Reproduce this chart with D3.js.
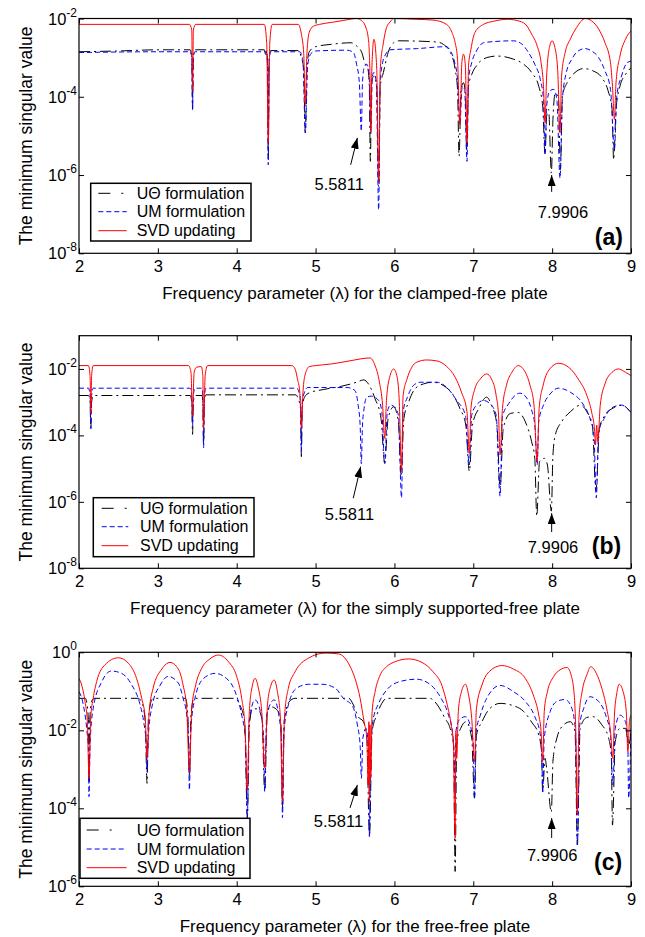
<!DOCTYPE html>
<html><head><meta charset="utf-8">
<script src="https://cdn.jsdelivr.net/npm/d3@7"></script>
<style>
body{margin:0;background:#fff}
svg{display:block}
text{font-family:"Liberation Sans",Arial,Helvetica,sans-serif;fill:#000}
</style>
</head><body>
<svg id="chart" width="645" height="937"></svg>
<script>
// ---------- DATA (lambda, log10 of minimum singular value) ----------
const lambdaTicks=[2,3,4,5,6,7,8,9];
const seriesNames=["U\u0398 formulation","UM formulation","SVD updating"];
const xTitles=["Frequency parameter (\u03bb) for the clamped-free plate",
 "Frequency parameter (\u03bb) for the simply supported-free plate",
 "Frequency parameter (\u03bb) for the free-free plate"];
const panelTags=["(a)","(b)","(c)"];
const yExpDomains=[[-8,-2],[-8,-1],[-6,0]];
const yExpTicks=[[-2,-4,-6,-8],[-2,-4,-6,-8],[0,-2,-4,-6]];
const annotationTexts=["5.5811","7.9906"];

// (a) clamped-free
const cfUTheta=[[2,-2.85],[2.5,-2.83],[3.0,-2.8],[3.41,-2.8],[3.43,-3.0],[3.44,-4.32],[3.45,-3.0],[3.47,-2.8],[4.35,-2.8],[4.37,-2.95],[4.38,-2.82],[4.39,-3.1],[4.40,-5.6],[4.41,-3.1],[4.43,-2.82],[4.78,-2.82],[4.82,-3.0],[4.85,-3.3],[4.87,-4.92],[4.89,-3.3],[4.92,-2.85],[5.0,-2.72],[5.2,-2.66],[5.45,-2.62],[5.52,-2.7],[5.586,-2.87],[5.63,-3.17],[5.66,-3.26],[5.68,-3.64],[5.695,-5.65],[5.71,-3.64],[5.74,-3.47],[5.776,-3.73],[5.80,-6.3],[5.82,-3.73],[5.86,-3.38],[5.92,-2.87],[5.99,-2.62],[6.05,-2.57],[6.54,-2.6],[6.62,-2.66],[6.71,-2.87],[6.77,-3.3],[6.80,-3.81],[6.82,-5.52],[6.845,-3.81],[6.875,-3.64],[6.90,-3.9],[6.915,-5.35],[6.94,-3.73],[6.98,-3.43],[7.04,-3.21],[7.17,-3.0],[7.30,-2.96],[7.51,-3.04],[7.64,-3.17],[7.74,-3.38],[7.83,-3.73],[7.88,-4.24],[7.91,-5.48],[7.93,-4.5],[7.955,-4.32],[7.99,-5.95],[8.01,-4.58],[8.04,-3.9],[8.08,-4.07],[8.105,-5.86],[8.13,-3.98],[8.19,-3.64],[8.29,-3.38],[8.40,-3.28],[8.52,-3.34],[8.63,-3.51],[8.71,-3.85],[8.76,-4.32],[8.78,-5.61],[8.81,-4.32],[8.86,-3.73],[8.93,-3.43],[9.0,-3.26]];
const cfUM=[[2,-2.87],[3.0,-2.85],[3.41,-2.85],[3.43,-3.0],[3.44,-4.32],[3.45,-3.0],[3.47,-2.85],[4.37,-2.85],[4.39,-3.1],[4.40,-5.74],[4.41,-3.1],[4.43,-2.85],[4.80,-2.85],[4.84,-3.1],[4.87,-4.92],[4.90,-3.2],[4.94,-2.9],[5.0,-2.83],[5.40,-2.81],[5.48,-2.87],[5.52,-3.17],[5.555,-3.64],[5.58,-4.88],[5.595,-3.64],[5.615,-3.26],[5.65,-3.17],[5.68,-3.47],[5.70,-4.92],[5.72,-3.47],[5.74,-3.38],[5.77,-3.64],[5.80,-6.89],[5.82,-3.64],[5.85,-3.13],[5.89,-2.91],[5.945,-2.8],[6.28,-2.77],[6.66,-2.72],[6.71,-2.83],[6.76,-3.09],[6.80,-3.56],[6.83,-4.67],[6.86,-3.73],[6.89,-3.81],[6.92,-5.65],[6.94,-3.56],[6.98,-3.13],[7.04,-2.83],[7.13,-2.62],[7.26,-2.59],[7.51,-2.57],[7.62,-2.66],[7.70,-2.87],[7.78,-3.17],[7.85,-3.56],[7.89,-4.07],[7.91,-5.48],[7.93,-4.24],[7.97,-3.85],[8.02,-3.81],[8.06,-4.07],[8.10,-6.08],[8.13,-4.07],[8.18,-3.38],[8.25,-3.04],[8.33,-2.83],[8.42,-2.77],[8.50,-2.83],[8.59,-3.0],[8.67,-3.34],[8.74,-3.81],[8.79,-5.35],[8.82,-3.98],[8.88,-3.47],[8.95,-3.13],[9.0,-3.09]];
const cfSVD=[[2,-2.15],[3.40,-2.15],[3.43,-2.3],[3.44,-3.85],[3.45,-2.3],[3.48,-2.15],[4.35,-2.15],[4.38,-2.62],[4.40,-5.18],[4.42,-2.6],[4.45,-2.15],[4.78,-2.15],[4.82,-2.4],[4.85,-2.9],[4.87,-4.2],[4.89,-2.9],[4.92,-2.35],[4.97,-2.2],[5.05,-2.15],[5.2,-2.1],[5.35,-2.05],[5.52,-2.0],[5.586,-2.06],[5.63,-2.19],[5.67,-2.53],[5.69,-3.47],[5.70,-4.9],[5.715,-3.2],[5.74,-2.53],[5.776,-3.3],[5.80,-6.16],[5.82,-3.3],[5.86,-2.62],[5.90,-2.23],[5.945,-2.09],[5.99,-2.0],[6.28,-2.02],[6.49,-2.04],[6.66,-2.15],[6.73,-2.36],[6.77,-2.62],[6.80,-3.04],[6.83,-4.71],[6.855,-3.13],[6.875,-2.91],[6.90,-3.21],[6.92,-5.18],[6.94,-3.21],[6.97,-2.79],[7.02,-2.36],[7.13,-2.15],[7.26,-2.07],[7.43,-2.02],[7.59,-2.07],[7.68,-2.19],[7.74,-2.4],[7.81,-2.7],[7.86,-3.13],[7.89,-3.73],[7.91,-4.67],[7.93,-3.47],[7.97,-2.7],[8.00,-2.57],[8.03,-2.7],[8.07,-3.3],[8.10,-4.92],[8.12,-3.47],[8.165,-2.87],[8.23,-2.53],[8.31,-2.23],[8.42,-2.0],[8.50,-2.06],[8.59,-2.27],[8.67,-2.62],[8.74,-3.13],[8.765,-3.73],[8.79,-4.58],[8.81,-3.64],[8.86,-2.96],[8.93,-2.53],[9.0,-2.32]];

// (b) simply supported-free
const ssUTheta=[[2,-2.8],[2.12,-2.8],[2.14,-3.0],[2.15,-3.79],[2.16,-3.0],[2.18,-2.8],[3.41,-2.8],[3.43,-3.0],[3.44,-3.97],[3.45,-3.0],[3.47,-2.8],[3.56,-2.8],[3.57,-3.0],[3.58,-4.3],[3.59,-3.0],[3.61,-2.78],[4.75,-2.78],[4.78,-2.9],[4.81,-3.2],[4.82,-4.64],[4.83,-3.2],[4.86,-2.85],[4.92,-2.72],[5.1,-2.62],[5.33,-2.52],[5.45,-2.45],[5.52,-2.4],[5.61,-2.33],[5.67,-2.45],[5.755,-2.9],[5.83,-3.49],[5.877,-4.84],[5.92,-3.49],[5.99,-3.14],[6.05,-3.59],[6.085,-5.18],[6.12,-3.49],[6.18,-3.0],[6.26,-2.6],[6.37,-2.45],[6.49,-2.4],[6.62,-2.5],[6.75,-2.8],[6.83,-3.19],[6.905,-3.69],[6.95,-5.08],[6.99,-3.69],[7.07,-3.19],[7.17,-2.85],[7.23,-3.09],[7.30,-3.69],[7.34,-5.58],[7.38,-3.79],[7.47,-3.34],[7.57,-3.31],[7.66,-3.59],[7.74,-4.19],[7.78,-4.69],[7.805,-6.43],[7.84,-4.79],[7.90,-4.69],[7.94,-4.89],[7.99,-6.28],[8.01,-4.6],[8.04,-3.99],[8.12,-3.59],[8.23,-3.29],[8.36,-3.09],[8.44,-3.29],[8.51,-3.69],[8.555,-5.68],[8.60,-3.79],[8.67,-3.39],[8.78,-3.17],[8.88,-3.09],[9.0,-3.31]];
const ssUM=[[2,-2.58],[2.12,-2.58],[2.14,-2.8],[2.15,-3.79],[2.16,-2.8],[2.18,-2.58],[3.41,-2.58],[3.43,-2.8],[3.44,-3.7],[3.45,-2.8],[3.47,-2.58],[3.56,-2.58],[3.57,-2.8],[3.58,-4.37],[3.59,-2.8],[3.61,-2.58],[4.76,-2.58],[4.79,-2.7],[4.81,-3.0],[4.82,-4.5],[4.83,-3.0],[4.86,-2.7],[4.9,-2.56],[5.4,-2.56],[5.50,-2.65],[5.54,-3.09],[5.565,-3.69],[5.58,-4.85],[5.595,-3.69],[5.615,-3.19],[5.65,-2.85],[5.71,-2.82],[5.80,-2.95],[5.84,-3.29],[5.877,-4.84],[5.91,-3.29],[5.95,-3.09],[6.0,-3.14],[6.05,-3.39],[6.09,-5.88],[6.11,-3.29],[6.165,-2.85],[6.24,-2.5],[6.33,-2.4],[6.54,-2.4],[6.66,-2.55],[6.79,-2.95],[6.90,-3.39],[6.95,-4.89],[6.98,-3.39],[7.04,-3.09],[7.13,-2.95],[7.21,-3.04],[7.29,-3.39],[7.34,-5.83],[7.37,-3.44],[7.45,-3.04],[7.53,-2.8],[7.59,-2.73],[7.67,-2.85],[7.74,-3.24],[7.78,-3.69],[7.81,-4.89],[7.83,-3.59],[7.89,-3.09],[7.975,-2.75],[8.08,-2.58],[8.23,-2.7],[8.40,-3.09],[8.48,-3.49],[8.53,-3.99],[8.56,-5.88],[8.59,-3.89],[8.66,-3.49],[8.78,-3.14],[8.88,-3.09],[9.0,-3.31]];
const ssSVD=[[2,-1.9],[2.12,-1.9],[2.14,-2.2],[2.15,-3.34],[2.16,-2.2],[2.18,-1.9],[3.39,-1.9],[3.42,-2.1],[3.44,-3.4],[3.46,-2.1],[3.49,-1.95],[3.55,-1.93],[3.57,-2.2],[3.58,-3.79],[3.60,-2.2],[3.63,-1.9],[4.70,-1.9],[4.74,-2.0],[4.77,-2.3],[4.80,-2.7],[4.82,-3.79],[4.84,-2.7],[4.87,-2.15],[4.92,-1.93],[5.0,-1.9],[5.2,-1.85],[5.45,-1.75],[5.565,-1.7],[5.69,-1.67],[5.755,-1.9],[5.81,-2.4],[5.85,-3.09],[5.877,-4.09],[5.90,-2.9],[5.945,-2.2],[5.99,-2.0],[6.03,-2.2],[6.06,-2.9],[6.09,-5.08],[6.11,-2.8],[6.16,-2.3],[6.22,-1.95],[6.28,-1.8],[6.41,-1.73],[6.54,-1.76],[6.66,-1.92],[6.77,-2.25],[6.85,-2.7],[6.92,-3.29],[6.95,-4.54],[6.97,-3.19],[7.02,-2.6],[7.09,-2.3],[7.17,-2.15],[7.23,-2.3],[7.29,-2.8],[7.32,-3.39],[7.34,-4.59],[7.37,-3.19],[7.42,-2.5],[7.49,-2.1],[7.57,-1.9],[7.66,-2.1],[7.72,-2.5],[7.77,-3.09],[7.81,-4.79],[7.835,-3.19],[7.89,-2.45],[7.97,-2.0],[8.08,-1.83],[8.21,-1.95],[8.33,-2.3],[8.44,-2.8],[8.50,-3.29],[8.54,-3.89],[8.55,-4.29],[8.565,-3.69],[8.58,-4.19],[8.61,-3.09],[8.67,-2.45],[8.76,-2.1],[8.84,-2.0],[8.93,-2.1],[9.0,-2.2]];

// (c) free-free
const ffUTheta=[[2,-1.18],[2.08,-1.18],[2.10,-1.3],[2.12,-1.8],[2.127,-3.3],[2.135,-1.8],[2.16,-1.25],[2.2,-1.18],[2.75,-1.18],[2.80,-1.3],[2.84,-1.78],[2.863,-3.36],[2.88,-1.7],[2.93,-1.2],[2.98,-1.18],[3.35,-1.18],[3.38,-1.6],[3.40,-3.2],[3.42,-1.6],[3.46,-1.18],[3.97,-1.18],[4.04,-1.35],[4.10,-1.78],[4.135,-4.24],[4.16,-1.9],[4.2,-1.45],[4.26,-1.45],[4.32,-1.7],[4.355,-3.57],[4.39,-1.5],[4.44,-1.4],[4.52,-1.5],[4.56,-1.8],[4.58,-4.0],[4.60,-1.8],[4.66,-1.28],[4.74,-1.18],[5.42,-1.18],[5.48,-1.35],[5.54,-1.65],[5.607,-1.78],[5.65,-2.2],[5.683,-4.73],[5.717,-2.03],[5.776,-1.61],[5.84,-1.31],[5.90,-1.18],[6.45,-1.18],[6.545,-1.35],[6.64,-1.69],[6.706,-1.95],[6.75,-2.38],[6.77,-5.62],[6.79,-2.29],[6.84,-1.95],[6.91,-1.78],[6.98,-2.2],[7.015,-3.74],[7.04,-2.12],[7.11,-1.78],[7.21,-1.44],[7.34,-1.31],[7.51,-1.37],[7.64,-1.52],[7.74,-1.79],[7.83,-2.12],[7.865,-2.55],[7.88,-3.57],[7.91,-2.72],[7.93,-2.97],[7.99,-4.1],[8.01,-2.8],[8.06,-2.2],[8.145,-1.86],[8.23,-1.78],[8.29,-2.03],[8.32,-4.94],[8.355,-1.95],[8.44,-1.67],[8.52,-1.65],[8.63,-1.86],[8.71,-2.16],[8.75,-2.63],[8.765,-4.43],[8.80,-2.29],[8.86,-1.95],[8.93,-1.95],[8.97,-2.38],[9.0,-2.03]];
const ffUM=[[2,-1.01],[2.055,-1.35],[2.097,-1.95],[2.12,-2.55],[2.127,-3.7],[2.14,-2.38],[2.18,-1.44],[2.29,-0.75],[2.41,-0.48],[2.54,-0.54],[2.67,-0.84],[2.77,-1.31],[2.82,-1.78],[2.85,-2.29],[2.863,-3.06],[2.88,-2.12],[2.93,-1.35],[3.03,-0.84],[3.13,-0.62],[3.26,-0.79],[3.32,-1.18],[3.366,-1.61],[3.387,-2.12],[3.40,-3.53],[3.417,-2.03],[3.47,-1.18],[3.58,-0.67],[3.725,-0.54],[3.87,-0.67],[3.98,-1.01],[4.063,-1.61],[4.11,-2.2],[4.135,-4.24],[4.156,-1.78],[4.233,-1.22],[4.30,-1.52],[4.34,-2.12],[4.355,-3.57],[4.38,-1.61],[4.474,-1.22],[4.54,-1.69],[4.57,-2.38],[4.58,-4.24],[4.60,-2.03],[4.655,-1.35],[4.76,-0.92],[4.91,-0.82],[5.08,-0.82],[5.25,-0.92],[5.37,-1.22],[5.44,-1.31],[5.49,-1.48],[5.53,-1.86],[5.565,-2.38],[5.581,-3.23],[5.60,-2.2],[5.64,-1.95],[5.676,-2.63],[5.683,-4.73],[5.70,-2.63],[5.725,-1.78],[5.80,-1.31],[5.90,-0.97],[6.07,-0.75],[6.28,-0.69],[6.45,-0.82],[6.58,-1.14],[6.685,-1.61],[6.735,-2.03],[6.76,-2.8],[6.77,-3.74],[6.78,-2.03],[6.82,-1.74],[6.90,-1.65],[6.96,-1.86],[7.0,-2.38],[7.015,-3.74],[7.036,-2.03],[7.09,-1.61],[7.17,-1.18],[7.34,-0.85],[7.51,-1.01],[7.66,-1.26],[7.78,-1.65],[7.85,-2.12],[7.87,-2.63],[7.88,-3.62],[7.90,-2.2],[7.975,-1.52],[8.06,-1.26],[8.165,-1.21],[8.25,-1.44],[8.296,-2.03],[8.32,-4.94],[8.35,-1.86],[8.40,-1.44],[8.48,-1.14],[8.59,-1.26],[8.685,-1.65],[8.74,-2.12],[8.77,-3.4],[8.80,-1.95],[8.86,-1.61],[8.93,-1.78],[8.96,-2.38],[8.97,-3.74],[9.0,-1.95]];
const ffSVD=[[2,-0.67],[2.034,-0.84],[2.076,-1.26],[2.106,-1.78],[2.127,-3.23],[2.148,-1.69],[2.18,-1.18],[2.224,-0.75],[2.33,-0.32],[2.50,-0.14],[2.626,-0.28],[2.73,-0.67],[2.795,-1.18],[2.84,-1.69],[2.863,-2.72],[2.89,-1.52],[2.94,-0.92],[3.05,-0.43],[3.154,-0.26],[3.26,-0.43],[3.32,-0.84],[3.366,-1.44],[3.40,-3.06],[3.43,-1.44],[3.48,-0.84],[3.556,-0.41],[3.66,-0.17],[3.767,-0.07],[3.894,-0.24],[4.0,-0.62],[4.063,-1.18],[4.106,-1.95],[4.135,-3.53],[4.16,-1.52],[4.2,-0.84],[4.233,-0.67],[4.275,-0.92],[4.317,-1.52],[4.355,-2.97],[4.39,-1.35],[4.435,-0.84],[4.474,-0.71],[4.516,-1.01],[4.554,-1.69],[4.58,-3.83],[4.605,-1.69],[4.655,-0.92],[4.74,-0.5],[4.91,-0.15],[5.12,-0.02],[5.29,-0.04],[5.44,-0.37],[5.50,-0.67],[5.565,-1.18],[5.615,-1.78],[5.65,-2.2],[5.667,-3.4],[5.676,-1.78],[5.683,-3.83],[5.69,-1.86],[5.70,-3.23],[5.717,-1.52],[5.755,-1.01],[5.82,-0.58],[5.90,-0.37],[6.01,-0.24],[6.18,-0.17],[6.35,-0.26],[6.49,-0.5],[6.60,-0.84],[6.67,-1.35],[6.72,-1.86],[6.75,-2.38],[6.76,-4.08],[6.77,-4.77],[6.78,-2.03],[6.79,-2.72],[6.81,-1.52],[6.85,-1.01],[6.90,-0.82],[6.94,-1.09],[6.98,-1.69],[7.015,-2.8],[7.04,-1.44],[7.11,-0.84],[7.21,-0.48],[7.36,-0.34],[7.51,-0.43],[7.66,-0.67],[7.76,-1.09],[7.83,-1.61],[7.86,-2.03],[7.88,-2.8],[7.90,-1.52],[7.94,-1.01],[8.02,-0.62],[8.10,-0.45],[8.19,-0.39],[8.24,-0.58],[8.28,-1.09],[8.30,-2.03],[8.32,-4.17],[8.34,-1.69],[8.38,-1.01],[8.44,-0.58],[8.49,-0.37],[8.56,-0.54],[8.63,-0.92],[8.70,-1.52],[8.74,-2.03],[8.77,-2.72],[8.79,-1.61],[8.82,-1.05],[8.85,-0.82],[8.90,-1.01],[8.94,-1.52],[8.96,-2.55],[8.98,-1.78],[9.0,-1.61]];

// annotation anchors in data units: [lambda, log10 value]
const annA={t1:[5.30,-6.38],tail1:[5.445,-5.74],tip1:[5.53,-5.05],t2:[8.137,-7.10],tail2:[7.994,-6.43],tip2:[7.994,-6.0],tag:[8.72,-7.79]};
const annB={t1:[5.43,-6.55],tail1:[5.478,-5.89],tip1:[5.572,-4.94],t2:[8.011,-7.54],tail2:[7.994,-6.91],tip2:[7.994,-6.34],tag:[8.69,-7.57]};
const annC={t1:[5.29,-4.48],tail1:[5.437,-3.99],tip1:[5.53,-3.40],t2:[8.0,-5.35],tail2:[7.994,-4.76],tip2:[7.994,-4.25],tag:[8.71,-5.58]};

// ---------- LAYOUT / STYLE ----------
const X0=79, X1=631;
const styles=[
  {color:"#000000",width:1,dash:"11,4,2,4",legendDash:"12,11,2,30"},
  {color:"#0000ff",width:1,dash:"5,3",legendDash:"5,3"},
  {color:"#ff0000",width:1,dash:null,legendDash:null}
];
const panels=[
  {yTop:18.5,yBot:253.3,series:[cfUTheta,cfUM,cfSVD],ann:annA,
   legend:{x:90.7,y:183.3,w:160.3,h:57.7,l1:98.3,l2:126.7,tx:136.7,rows:[10,28.4,47.4]}},
  {yTop:335.7,yBot:568.3,series:[ssUTheta,ssUM,ssSVD],ann:annB,
   legend:{x:93.3,y:497.7,w:160.7,h:59,l1:101.7,l2:128.3,tx:140,rows:[10.6,29,48]}},
  {yTop:652.3,yBot:886.3,series:[ffUTheta,ffUM,ffSVD],ann:annC,
   legend:{x:80,y:818.3,w:170,h:60,l1:86.7,l2:126.7,tx:136.7,rows:[11.7,30.7,49.4]}}
];

const svg=d3.select("#chart");
svg.append("rect").attr("width",645).attr("height",937).attr("fill","#fff");
const defs=svg.append("defs");
defs.append("marker").attr("id","arrowhead").attr("markerUnits","userSpaceOnUse")
  .attr("markerWidth",11).attr("markerHeight",8).attr("refX",11).attr("refY",4).attr("orient","auto")
  .append("path").attr("d","M0,0 L11,4 L0,8 Z").attr("fill","#000");

panels.forEach((p,pi)=>{
  const x=d3.scaleLinear().domain([2,9]).range([X0,X1]);
  const y=d3.scaleLog().domain([Math.pow(10,yExpDomains[pi][0]),Math.pow(10,yExpDomains[pi][1])]).range([p.yBot,p.yTop]);
  const px=d=>x(d[0]), py=d=>y(Math.pow(10,d[1]));
  const g=svg.append("g");
  const clipId="clip"+pi;
  defs.append("clipPath").attr("id",clipId).append("rect")
    .attr("x",X0).attr("y",p.yTop).attr("width",X1-X0).attr("height",p.yBot-p.yTop);

  const line=d3.line().x(px).y(py).curve(d3.curveMonotoneX);
  p.series.forEach((s,i)=>{
    g.append("path").datum(s).attr("clip-path",`url(#${clipId})`)
     .attr("d",line).attr("fill","none")
     .attr("stroke",styles[i].color).attr("stroke-width",styles[i].width)
     .attr("stroke-dasharray",styles[i].dash);
  });

  // axes with inward ticks
  const tv=yExpTicks[pi].map(e=>Math.pow(10,e));
  const bottom=g.append("g").attr("transform",`translate(0,${p.yBot})`)
    .call(d3.axisBottom(x).tickValues(lambdaTicks).tickSizeInner(-5).tickSizeOuter(0).tickPadding(7).tickFormat(d3.format("d")));
  g.append("g").attr("transform",`translate(0,${p.yTop})`)
    .call(d3.axisTop(x).tickValues(lambdaTicks).tickSizeInner(-5).tickSizeOuter(0).tickFormat(""));
  g.append("g").attr("transform",`translate(${X0},0)`)
    .call(d3.axisLeft(y).tickValues(tv).tickSizeInner(-5).tickSizeOuter(0).tickFormat(""));
  g.append("g").attr("transform",`translate(${X1},0)`)
    .call(d3.axisRight(y).tickValues(tv).tickSizeInner(-5).tickSizeOuter(0).tickFormat(""));
  g.selectAll(".domain").remove();
  g.selectAll(".tick line").attr("stroke","#000").attr("stroke-width",1);
  bottom.selectAll("text").attr("font-size",16.5).attr("font-family","Liberation Sans, Arial, sans-serif").attr("fill","#000");

  // y tick labels 10^n
  yExpTicks[pi].forEach(e=>{
    const t=g.append("text").attr("x",X0-2).attr("y",y(Math.pow(10,e))+6)
      .attr("text-anchor","end").attr("font-size",16.5);
    t.append("tspan").text("10");
    t.append("tspan").attr("dy",-8).attr("font-size",12).text(e===0?"0":String(e));
  });

  // frame
  g.append("rect").attr("x",X0).attr("y",p.yTop).attr("width",X1-X0).attr("height",p.yBot-p.yTop)
    .attr("fill","none").attr("stroke","#000").attr("stroke-width",1.2);

  // axis titles
  g.append("text").attr("x",(X0+X1)/2).attr("y",p.yBot+46).attr("text-anchor","middle")
    .attr("font-size",17).text(xTitles[pi]);
  g.append("text").attr("transform",`translate(32,${(p.yTop+p.yBot)/2}) rotate(-90)`)
    .attr("text-anchor","middle").attr("font-size",17.5).text("The minimum singular value");

  // annotations
  const a=p.ann;
  g.append("line").attr("x1",px(a.tail1)).attr("y1",py(a.tail1)).attr("x2",px(a.tip1)).attr("y2",py(a.tip1))
    .attr("stroke","#000").attr("stroke-width",1).attr("marker-end","url(#arrowhead)");
  g.append("line").attr("x1",px(a.tail2)).attr("y1",py(a.tail2)).attr("x2",px(a.tip2)).attr("y2",py(a.tip2))
    .attr("stroke","#000").attr("stroke-width",1).attr("marker-end","url(#arrowhead)");
  g.append("text").attr("x",px(a.t1)).attr("y",py(a.t1)).attr("text-anchor","middle").attr("font-size",16.5).text(annotationTexts[0]);
  g.append("text").attr("x",px(a.t2)).attr("y",py(a.t2)).attr("text-anchor","middle").attr("font-size",16.5).text(annotationTexts[1]);
  g.append("text").attr("x",px(a.tag)).attr("y",py(a.tag)).attr("text-anchor","middle")
    .attr("font-size",23).attr("font-weight","bold").text(panelTags[pi]);

  // legend
  const L=p.legend;
  g.append("rect").attr("x",L.x).attr("y",L.y).attr("width",L.w).attr("height",L.h)
    .attr("fill","#fff").attr("stroke","#000").attr("stroke-width",1.5);
  seriesNames.forEach((nm,i)=>{
    const cy=L.y+L.rows[i];
    g.append("line").attr("x1",L.l1).attr("x2",L.l2).attr("y1",cy).attr("y2",cy)
      .attr("stroke",styles[i].color).attr("stroke-width",1).attr("stroke-dasharray",styles[i].legendDash);
    g.append("text").attr("x",L.tx).attr("y",cy+5.5).attr("font-size",16).text(nm);
  });
});
</script>
</body></html>
